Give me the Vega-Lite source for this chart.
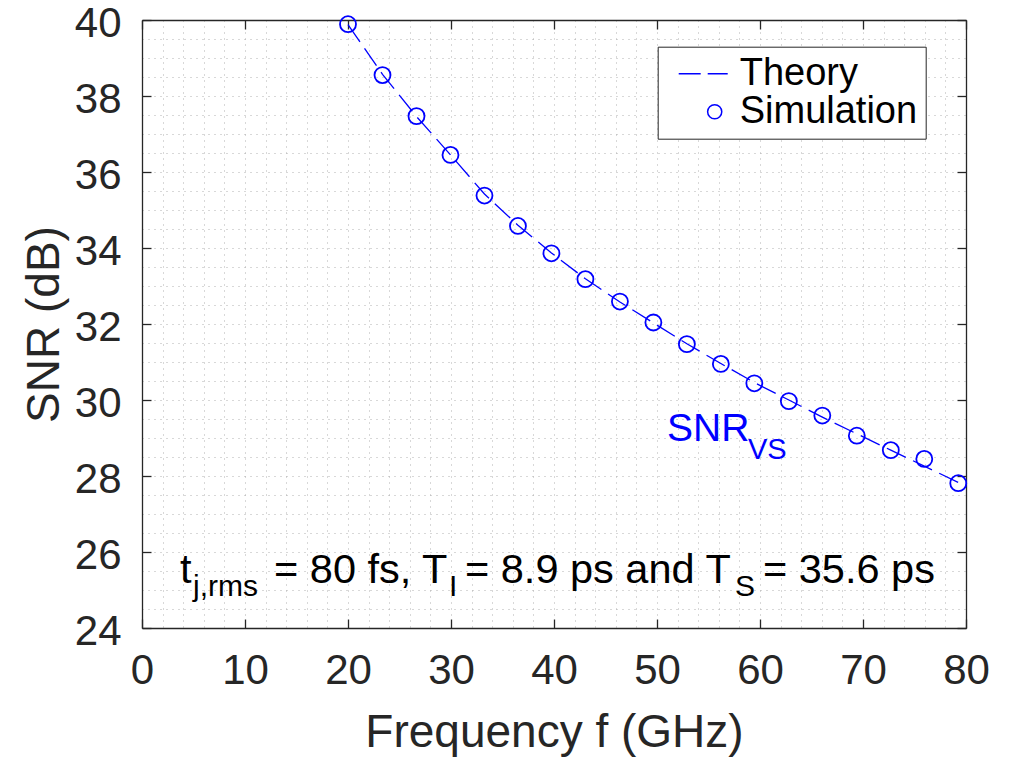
{
  "$schema": "https://vega.github.io/schema/vega-lite/v6.json",
  "width": 824,
  "height": 608,
  "autosize": {"type": "none"},
  "padding": {"left": 142, "top": 20, "right": 47, "bottom": 129},
  "background": "white",
  "config": {
    "view": {"stroke": null},
    "font": "Liberation Sans",
    "axis": {
      "labelFont": "Liberation Sans",
      "titleFont": "Liberation Sans",
      "labelColor": "#262626",
      "titleColor": "#262626",
      "domainColor": "#262626",
      "tickColor": "#262626",
      "domainWidth": 1.3,
      "tickWidth": 1.3,
      "labelFlush": false,
      "labelOverlap": false,
      "labelBound": false,
      "titleFontWeight": "normal"
    }
  },
  "datasets": {
    "sim": [
      {"f": 20.0, "snr": 39.89, "series": "Simulation"},
      {"f": 23.35, "snr": 38.55, "series": "Simulation"},
      {"f": 26.65, "snr": 37.47, "series": "Simulation"},
      {"f": 29.95, "snr": 36.45, "series": "Simulation"},
      {"f": 33.25, "snr": 35.38, "series": "Simulation"},
      {"f": 36.5, "snr": 34.58, "series": "Simulation"},
      {"f": 39.75, "snr": 33.86, "series": "Simulation"},
      {"f": 43.05, "snr": 33.18, "series": "Simulation"},
      {"f": 46.4, "snr": 32.59, "series": "Simulation"},
      {"f": 49.65, "snr": 32.04, "series": "Simulation"},
      {"f": 52.9, "snr": 31.47, "series": "Simulation"},
      {"f": 56.2, "snr": 30.95, "series": "Simulation"},
      {"f": 59.45, "snr": 30.44, "series": "Simulation"},
      {"f": 62.8, "snr": 29.97, "series": "Simulation"},
      {"f": 66.05, "snr": 29.59, "series": "Simulation"},
      {"f": 69.4, "snr": 29.06, "series": "Simulation"},
      {"f": 72.7, "snr": 28.68, "series": "Simulation"},
      {"f": 75.95, "snr": 28.45, "series": "Simulation"},
      {"f": 79.25, "snr": 27.81, "series": "Simulation"}
    ],
    "theory": [
      {"f": 20.0, "snr": 39.88},
      {"f": 23.35, "snr": 38.57},
      {"f": 26.65, "snr": 37.46},
      {"f": 29.95, "snr": 36.45},
      {"f": 33.25, "snr": 35.42},
      {"f": 36.5, "snr": 34.6},
      {"f": 39.75, "snr": 33.87},
      {"f": 43.05, "snr": 33.19},
      {"f": 46.4, "snr": 32.58},
      {"f": 49.65, "snr": 32.03},
      {"f": 52.9, "snr": 31.48},
      {"f": 56.2, "snr": 30.96},
      {"f": 59.45, "snr": 30.46},
      {"f": 62.8, "snr": 30.0},
      {"f": 66.05, "snr": 29.55},
      {"f": 69.4, "snr": 29.11},
      {"f": 72.7, "snr": 28.68},
      {"f": 75.95, "snr": 28.26},
      {"f": 79.25, "snr": 27.83}
    ]
  },
  "resolve": {"axis": {"x": "independent", "y": "independent"}},
  "layer": [
    {
      "data": {"values": [{"label": "t"}]},
      "mark": {"type": "text", "fontSize": 41.5, "align": "left", "baseline": "alphabetic", "color": "black", "font": "Liberation Sans"},
      "encoding": {
        "text": {"field": "label"},
        "x": {"datum": 3.69, "type": "quantitative", "scale": {"domain": [0, 80], "nice": false},
          "axis": {"orient": "bottom", "values": [0,2,4,6,8,10,12,14,16,18,20,22,24,26,28,30,32,34,36,38,40,42,44,46,48,50,52,54,56,58,60,62,64,66,68,70,72,74,76,78,80],
            "grid": true, "gridDash": [1, 5], "gridColor": "#b0b0b0", "gridWidth": 1, "labels": false, "ticks": false, "domain": false, "title": null}},
        "y": {"datum": 25.18, "type": "quantitative", "scale": {"domain": [24, 40], "nice": false},
          "axis": {"orient": "left", "values": [24,24.5,25,25.5,26,26.5,27,27.5,28,28.5,29,29.5,30,30.5,31,31.5,32,32.5,33,33.5,34,34.5,35,35.5,36,36.5,37,37.5,38,38.5,39,39.5,40],
            "grid": true, "gridDash": [1, 5], "gridColor": "#b0b0b0", "gridWidth": 1, "labels": false, "ticks": false, "domain": false, "title": null}}
      }
    },
    {
      "data": {"name": "theory"},
      "mark": {"type": "line", "color": "#0000ff", "strokeWidth": 1.3, "strokeDash": [21, 8]},
      "encoding": {
        "x": {"field": "f", "type": "quantitative", "scale": {"domain": [0, 80], "nice": false},
          "axis": {"orient": "bottom", "values": [0,10,20,30,40,50,60,70,80], "grid": false, "tickSize": -9, "labelPadding": 31,
            "labelFontSize": 42, "title": "Frequency f (GHz)", "titleFontSize": 46, "titleY": 118, "titleBaseline": "alphabetic"}},
        "y": {"field": "snr", "type": "quantitative", "scale": {"domain": [24, 40], "nice": false},
          "axis": {"orient": "left", "values": [24,26,28,30,32,34,36,38,40], "grid": false, "tickSize": -9, "labelPadding": 30,
            "labelFontSize": 42, "labelOffset": 3, "title": "SNR (dB)", "titleFontSize": 46, "titleX": -84, "titleY": 304, "titleBaseline": "alphabetic", "titleAngle": 270}}
      }
    },
    {
      "data": {"name": "sim"},
      "mark": {"type": "point", "filled": false, "color": "#0000ff", "strokeWidth": 1.8, "size": 256, "opacity": 1},
      "encoding": {
        "x": {"field": "f", "type": "quantitative", "scale": {"domain": [0, 80], "nice": false},
          "axis": {"orient": "top", "values": [0,10,20,30,40,50,60,70,80], "grid": false, "tickSize": -9, "labels": false, "title": null}},
        "y": {"field": "snr", "type": "quantitative", "scale": {"domain": [24, 40], "nice": false},
          "axis": {"orient": "right", "values": [24,26,28,30,32,34,36,38,40], "grid": false, "tickSize": -9, "labels": false, "title": null}},
        "shape": {"field": "series", "type": "nominal",
          "scale": {"domain": ["Theory", "Simulation"], "range": ["M-5.09,0H-1.98M-0.99,0H1.84", "circle"]},
          "legend": {"orient": "none", "legendX": 515.7, "legendY": 26.7, "title": null,
            "labelFont": "Liberation Sans", "labelFontSize": 38, "labelColor": "black", "labelLimit": 0,
            "strokeColor": "#262626", "fillColor": "white", "padding": 8,
            "symbolSize": 200, "symbolStrokeWidth": 1.5, "symbolStrokeColor": "#0000ff", "symbolFillColor": "transparent",
            "symbolOffset": 30, "labelOffset": 6, "rowPadding": 0, "cornerRadius": 0}}
      }
    },
    {
      "data": {"values": [{"label": "j,rms"}]},
      "mark": {"type": "text", "fontSize": 30, "align": "left", "baseline": "alphabetic", "color": "black", "font": "Liberation Sans"},
      "encoding": {"text": {"field": "label"}, "x": {"datum": 4.95, "type": "quantitative", "axis": null}, "y": {"datum": 24.855, "type": "quantitative", "axis": null}}
    },
    {
      "data": {"values": [{"label": "= 80 fs, T"}]},
      "mark": {"type": "text", "fontSize": 41.5, "align": "left", "baseline": "alphabetic", "color": "black", "font": "Liberation Sans"},
      "encoding": {"text": {"field": "label"}, "x": {"datum": 12.82, "type": "quantitative", "axis": null}, "y": {"datum": 25.18, "type": "quantitative", "axis": null}}
    },
    {
      "data": {"values": [{"label": "I"}]},
      "mark": {"type": "text", "fontSize": 30, "align": "left", "baseline": "alphabetic", "color": "black", "font": "Liberation Sans"},
      "encoding": {"text": {"field": "label"}, "x": {"datum": 29.81, "type": "quantitative", "axis": null}, "y": {"datum": 24.855, "type": "quantitative", "axis": null}}
    },
    {
      "data": {"values": [{"label": "= 8.9 ps and T"}]},
      "mark": {"type": "text", "fontSize": 41.5, "align": "left", "baseline": "alphabetic", "color": "black", "font": "Liberation Sans"},
      "encoding": {"text": {"field": "label"}, "x": {"datum": 31.36, "type": "quantitative", "axis": null}, "y": {"datum": 25.18, "type": "quantitative", "axis": null}}
    },
    {
      "data": {"values": [{"label": "S"}]},
      "mark": {"type": "text", "fontSize": 30, "align": "left", "baseline": "alphabetic", "color": "black", "font": "Liberation Sans"},
      "encoding": {"text": {"field": "label"}, "x": {"datum": 57.57, "type": "quantitative", "axis": null}, "y": {"datum": 24.855, "type": "quantitative", "axis": null}}
    },
    {
      "data": {"values": [{"label": "= 35.6 ps"}]},
      "mark": {"type": "text", "fontSize": 41.5, "align": "left", "baseline": "alphabetic", "color": "black", "font": "Liberation Sans"},
      "encoding": {"text": {"field": "label"}, "x": {"datum": 60.29, "type": "quantitative", "axis": null}, "y": {"datum": 25.18, "type": "quantitative", "axis": null}}
    },
    {
      "data": {"values": [{"label": "SNR"}]},
      "mark": {"type": "text", "fontSize": 39, "align": "left", "baseline": "alphabetic", "color": "#0000ff", "font": "Liberation Sans"},
      "encoding": {"text": {"field": "label"}, "x": {"datum": 50.97, "type": "quantitative", "axis": null}, "y": {"datum": 28.92, "type": "quantitative", "axis": null}}
    },
    {
      "data": {"values": [{"label": "VS"}]},
      "mark": {"type": "text", "fontSize": 29, "align": "left", "baseline": "alphabetic", "color": "#0000ff", "font": "Liberation Sans"},
      "encoding": {"text": {"field": "label"}, "x": {"datum": 58.83, "type": "quantitative", "axis": null}, "y": {"datum": 28.44, "type": "quantitative", "axis": null}}
    }
  ]
}
